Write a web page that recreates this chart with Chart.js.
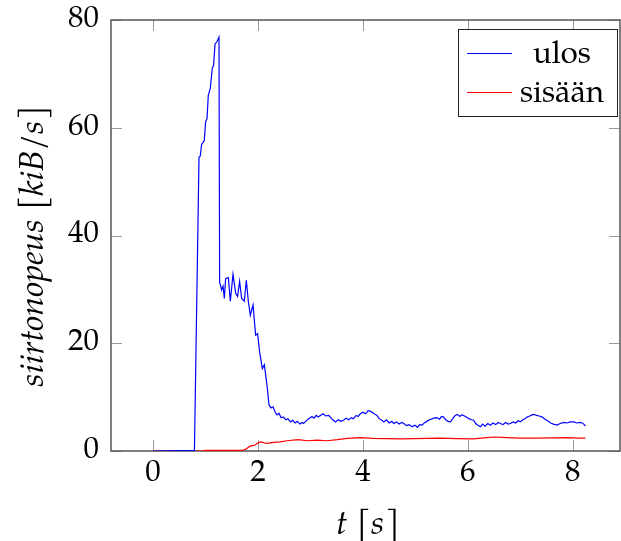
<!DOCTYPE html>
<html>
<head>
<meta charset="utf-8">
<script src="https://cdn.jsdelivr.net/npm/chart.js@4.4.1/dist/chart.umd.min.js"></script>
<style>
  html, body { margin: 0; padding: 0; background: #fff; }
  #wrap { width: 621px; height: 541px; }
</style>
</head>
<body>
<div id="wrap"><canvas id="rateChart" width="621" height="541"></canvas></div>
<script>
// aika-akseli ja arvot luettu kuvasta
const ulosT = [0, 0.79, 0.877, 0.90, 0.927, 0.978, 1.003, 1.03, 1.054, 1.092, 1.13, 1.155, 1.182, 1.22, 1.258,
  1.27, 1.308, 1.335, 1.36, 1.384, 1.436, 1.474, 1.525, 1.575, 1.613, 1.651, 1.69, 1.74, 1.779, 1.817, 1.855,
  1.907, 1.956, 1.994, 2.032, 2.084, 2.122, 2.173, 2.212, 2.25, 2.288, 2.33, 2.364,
  2.40, 2.44, 2.49, 2.53, 2.57, 2.62, 2.66, 2.71, 2.75, 2.80, 2.84, 2.87, 2.92, 2.97, 3.03, 3.07, 3.11, 3.15,
  3.19, 3.24, 3.29, 3.35, 3.40, 3.44, 3.48, 3.53, 3.58, 3.63, 3.68, 3.73, 3.78, 3.82, 3.87, 3.91, 3.95, 4.00,
  4.05, 4.10, 4.14, 4.19, 4.23, 4.27, 4.31, 4.36, 4.40, 4.45, 4.50, 4.55, 4.59, 4.64, 4.69, 4.74, 4.78, 4.83,
  4.88, 4.94, 4.99, 5.04, 5.08, 5.13, 5.18, 5.22, 5.25, 5.30, 5.35, 5.41, 5.46, 5.50, 5.54, 5.58, 5.62, 5.67,
  5.72, 5.76, 5.80, 5.85, 5.88, 5.92, 5.97, 6.02, 6.07, 6.11, 6.15, 6.19, 6.24, 6.28, 6.33, 6.38, 6.43, 6.48,
  6.53, 6.58, 6.62, 6.67, 6.72, 6.77, 6.81, 6.86, 6.91, 6.96, 7.00, 7.05, 7.09, 7.13, 7.18, 7.22, 7.26, 7.31,
  7.36, 7.42, 7.47, 7.52, 7.58, 7.63, 7.70, 7.76, 7.83, 7.89, 7.95, 8.02, 8.08, 8.14, 8.18, 8.21, 8.24];
const ulosV = [0, 0.1, 54.5, 54.7, 56.9, 57.6, 61.1, 61.7, 66.0, 67.3, 71.0, 71.6, 75.5, 76.0, 76.8,
  31.4, 29.9, 30.6, 28.3, 32.0, 32.2, 27.8, 32.8, 29.3, 28.7, 31.5, 28.3, 27.8, 31.7, 27.8, 25.2,
  27.1, 21.5, 21.8, 18.4, 15.3, 16.0, 12.2, 8.5, 8.0, 8.2, 7.2, 6.7,
  7.0, 6.2, 6.3, 5.8, 6.0, 5.4, 5.7, 5.2, 5.5, 5.0, 5.3, 5.1, 5.6, 6.0, 6.4, 6.1, 6.6, 6.3,
  6.6, 6.9, 6.5, 6.6, 6.0, 5.7, 5.4, 5.8, 5.5, 5.7, 6.1, 5.8, 6.2, 6.0, 6.6, 6.4, 6.9, 7.2,
  6.9, 7.5, 7.4, 7.1, 6.8, 6.6, 6.0, 5.7, 5.4, 5.8, 5.2, 5.5, 5.1, 5.4, 5.0, 5.3, 5.1, 4.7,
  4.9, 4.5, 4.8, 4.4, 4.9, 4.8, 5.3, 5.5, 5.7, 5.9, 6.1, 6.2, 5.9, 6.4, 6.3, 5.8, 5.5, 5.4,
  6.1, 6.6, 6.8, 6.4, 6.7, 6.6, 6.3, 6.0, 5.8, 5.7, 5.1, 4.8, 4.5, 5.0, 4.6, 5.1, 4.8, 5.2,
  4.9, 5.3, 5.1, 4.9, 5.3, 5.0, 5.1, 5.4, 5.2, 5.6, 5.4, 5.8, 6.0, 6.3, 6.5, 6.7, 6.8, 6.6,
  6.5, 6.3, 5.9, 5.6, 5.2, 5.0, 4.8, 5.1, 5.3, 5.2, 5.4, 5.4, 5.2, 5.3, 5.2, 5.0, 4.6];

const sisaanT = [0, 0.95, 1.0, 1.7, 1.76, 1.85, 1.95, 1.98, 2.05, 2.17, 2.3, 2.42, 2.55, 2.77, 2.94, 3.13,
  3.32, 3.51, 3.70, 3.95, 4.2, 4.46, 4.72, 4.97, 5.22, 5.48, 5.8, 6.1, 6.36, 6.5, 6.74, 7.0, 7.3, 7.6,
  7.9, 8.1, 8.24];
const sisaanV = [0, 0, 0.1, 0.1, 0.3, 0.9, 1.1, 1.4, 1.7, 1.4, 1.6, 1.7, 1.9, 2.1, 1.9, 2.0,
  1.9, 2.1, 2.35, 2.5, 2.35, 2.3, 2.25, 2.3, 2.35, 2.4, 2.3, 2.25, 2.5, 2.6, 2.5, 2.4, 2.4, 2.45,
  2.5, 2.4, 2.4];

const xTicks = [0, 2, 4, 6, 8];
const yTicks = [0, 20, 40, 60, 80];

const serif = "'TeX Gyre Pagella', 'Liberation Serif', serif";

// kehys ja sisäänpäin osoittavat tikit
const framePlugin = {
  id: 'frame',
  beforeDatasetsDraw(chart) {
    const ctx = chart.ctx;
    const { left, right, top, bottom } = chart.chartArea;
    const xs = chart.scales.x, ys = chart.scales.y;
    ctx.save();
    ctx.strokeStyle = '#999';
    ctx.lineWidth = 1;
    xTicks.forEach(v => {
      const px = Math.round(xs.getPixelForValue(v)) + 0.5;
      ctx.beginPath();
      ctx.moveTo(px, bottom); ctx.lineTo(px, bottom - 11);
      ctx.moveTo(px, top); ctx.lineTo(px, top + 11);
      ctx.stroke();
    });
    yTicks.forEach(v => {
      const py = Math.round(ys.getPixelForValue(v)) + 0.5;
      ctx.beginPath();
      ctx.moveTo(left, py); ctx.lineTo(left + 11, py);
      ctx.moveTo(right, py); ctx.lineTo(right - 11, py);
      ctx.stroke();
    });
    ctx.strokeStyle = '#555';
    ctx.lineWidth = 1.5;
    ctx.strokeRect(left, top, right - left, bottom - top);
    ctx.restore();
  }
};

function drawParts(ctx, parts, cx, baseY) {
  let total = 0;
  parts.forEach(p => {
    if (p.gap) { p.w = p.gap; } else { ctx.font = p.font; p.w = ctx.measureText(p.text).width; }
    total += p.w;
  });
  let x = cx - total / 2;
  parts.forEach(p => {
    if (!p.gap) {
      ctx.font = p.font;
      ctx.fillText(p.text, x, baseY + (p.dy || 0));
    }
    x += p.w;
  });
}

// akselien otsikot ja selite
const labelPlugin = {
  id: 'labels',
  afterDraw(chart) {
    const ctx = chart.ctx;
    ctx.save();
    ctx.fillStyle = '#000';
    ctx.textBaseline = 'alphabetic';
    ctx.textAlign = 'left';
    const it = 'italic 34px ' + serif;
    const br = '34px ' + serif;

    drawParts(ctx, [
      { text: 't', font: it },
      { gap: 9 },
      { text: '[', font: br },
      { text: 's', font: it },
      { gap: 1 },
      { text: ']', font: br }
    ], 368, 534);

    ctx.save();
    ctx.translate(43, 246);
    ctx.rotate(-Math.PI / 2);
    drawParts(ctx, [
      { text: 'siirtonopeus', font: it },
      { gap: 9 },
      { text: '[', font: br },
      { text: 'kiB/s', font: it },
      { gap: 1 },
      { text: ']', font: br }
    ], 0, 0);
    ctx.restore();

    // selite
    ctx.fillStyle = '#fff';
    ctx.fillRect(458, 29, 159, 87);
    ctx.strokeStyle = '#222';
    ctx.lineWidth = 1;
    ctx.strokeRect(458.5, 29.5, 159, 87);
    const rows = [53, 92];
    chart.data.datasets.forEach((ds, i) => {
      ctx.strokeStyle = ds.borderColor;
      ctx.lineWidth = 1.2;
      ctx.beginPath();
      ctx.moveTo(467, rows[i] + 0.5);
      ctx.lineTo(512, rows[i] + 0.5);
      ctx.stroke();
      ctx.fillStyle = '#000';
      ctx.font = '31px ' + serif;
      ctx.textAlign = 'center';
      ctx.fillText(ds.label, 562, rows[i] + 10);
    });
    ctx.restore();
  }
};

const ctx = document.getElementById('rateChart').getContext('2d');
new Chart(ctx, {
  type: 'line',
  data: {
    datasets: [
      {
        label: 'ulos',
        data: ulosT.map((t, i) => ({ x: t, y: ulosV[i] })),
        borderColor: '#0000ff',
        borderWidth: 1.2,
        pointRadius: 0,
        tension: 0,
        fill: false
      },
      {
        label: 'sisään',
        data: sisaanT.map((t, i) => ({ x: t, y: sisaanV[i] })),
        borderColor: '#ff0000',
        borderWidth: 1.2,
        pointRadius: 0,
        tension: 0,
        fill: false
      }
    ]
  },
  options: {
    responsive: false,
    animation: false,
    layout: { padding: { left: 0, top: 20, right: 1, bottom: 0 } },
    plugins: {
      legend: { display: false },
      tooltip: { enabled: false }
    },
    scales: {
      x: {
        type: 'linear',
        min: -0.8,
        max: 8.9,
        afterBuildTicks: s => { s.ticks = xTicks.map(v => ({ value: v })); },
        afterFit: s => { s.height = 90; s.paddingLeft = 0; s.paddingRight = 0; },
        grid: { display: false, drawTicks: false },
        border: { display: false },
        ticks: { color: '#000', padding: 5, font: { family: serif, size: 31 }, maxRotation: 0 }
      },
      y: {
        min: 0,
        max: 80,
        afterBuildTicks: s => { s.ticks = yTicks.map(v => ({ value: v })); },
        afterFit: s => { s.width = 111; s.paddingTop = 0; s.paddingBottom = 0; },
        grid: { display: false, drawTicks: false },
        border: { display: false },
        ticks: { color: '#000', padding: 12, font: { family: serif, size: 31 } }
      }
    }
  },
  plugins: [framePlugin, labelPlugin]
});
</script>
</body>
</html>
